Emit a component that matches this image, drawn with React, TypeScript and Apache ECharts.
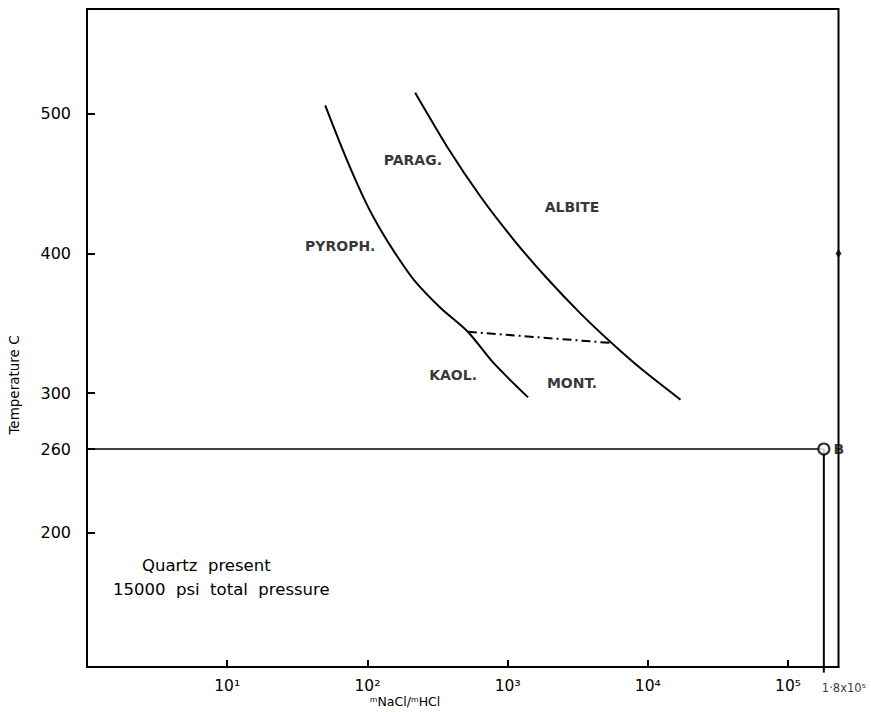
import React, { useEffect, useRef } from "react";
import * as echarts from "echarts";

// x: mNaCl/mHCl (log), y: temperature °C
const xTickValues = [10, 100, 1000, 10000, 100000];
const xTickLabels = ["10¹", "10²", "10³", "10⁴", "10⁵"];
const yTickValues = [200, 260, 300, 400, 500];

// boundary PYROPH./KAOL. (left) and PARAG./ALBITE (right)
const leftCurveX = [50, 70, 98, 124, 163, 215, 333, 520, 787, 1400];
const leftCurveT = [506, 469, 436, 417, 398, 381, 361, 344, 322, 297];
const rightCurveX = [219, 369, 640, 1106, 1858, 3289, 5520, 9140, 17100];
const rightCurveT = [515, 476.6, 440.8, 409.8, 383.5, 357.3, 335.9, 316.7, 295.3];
// kaolinite/montmorillonite dash-dot boundary
const dashX = [520, 5520];
const dashT = [344, 335.9];

const regionNames = ["PARAG.", "ALBITE", "PYROPH.", "KAOL.", "MONT."];
const regionX = [211, 2880, 64, 408, 2880];
const regionT = [467, 433, 405, 313, 307];

const pointB = { x: 180000, t: 260, name: "B", axisLabel: "1·8x10⁵" };
const rightMarker = { t: 400 };

const X_MIN = 1;
const X_MAX = 229000;
const Y_MIN = 104;
const Y_MAX = 575;

const FONT = "'DejaVu Sans', Lato, sans-serif";

export default function App() {
  const ref = useRef<HTMLDivElement>(null);
  useEffect(() => {
    if (!ref.current) return;
    const chart = echarts.init(ref.current, undefined, { renderer: "svg" });
    const black = "#000";
    const zip = (xs: number[], ys: number[]) => xs.map((x, i) => [x, ys[i]]);
    chart.setOption({
      animation: false,
      backgroundColor: "#fff",
      grid: {
        left: 87,
        right: 32.5,
        top: 9,
        bottom: 45,
        containLabel: false,
        outerBoundsMode: "none",
        show: true,
        borderColor: black,
        borderWidth: 2,
      },
      xAxis: {
        type: "log",
        logBase: 10,
        min: X_MIN,
        max: X_MAX,
        axisLine: { show: true, lineStyle: { color: black, width: 2 } },
        axisTick: {
          show: true,
          inside: true,
          length: 7,
          customValues: xTickValues,
          lineStyle: { color: black, width: 2 },
        },
        axisLabel: {
          show: true,
          customValues: xTickValues,
          margin: 11,
          color: black,
          fontSize: 15.5,
          fontFamily: FONT,
          formatter: (v: number) => {
            const i = xTickValues.findIndex((x) => Math.abs(x - v) / x < 1e-6);
            return i < 0 ? "" : xTickLabels[i];
          },
        },
        splitLine: { show: false },
        minorTick: { show: false },
      },
      yAxis: {
        type: "value",
        min: Y_MIN,
        max: Y_MAX,
        axisLine: { show: true, lineStyle: { color: black, width: 2 } },
        axisTick: {
          show: true,
          inside: true,
          length: 8,
          customValues: yTickValues,
          lineStyle: { color: black, width: 2 },
        },
        axisLabel: {
          show: true,
          customValues: yTickValues,
          margin: 16,
          color: black,
          fontSize: 16,
          fontFamily: FONT,
        },
        splitLine: { show: false },
      },
      series: [
        {
          type: "line",
          data: zip(leftCurveX, leftCurveT),
          smooth: 0.3,
          showSymbol: false,
          lineStyle: { color: black, width: 2 },
          silent: true,
        },
        {
          type: "line",
          data: zip(rightCurveX, rightCurveT),
          smooth: 0.2,
          showSymbol: false,
          lineStyle: { color: black, width: 2 },
          silent: true,
        },
        {
          type: "line",
          data: zip(dashX, dashT),
          showSymbol: false,
          lineStyle: { color: black, width: 2, type: [9, 4, 2, 4] },
          silent: true,
        },
        {
          type: "line",
          clip: false,
          data: [
            [X_MIN * 0.93, pointB.t],
            [pointB.x, pointB.t],
          ],
          showSymbol: false,
          lineStyle: { color: black, width: 1.6 },
          silent: true,
        },
        {
          type: "line",
          clip: false,
          data: [
            [pointB.x, pointB.t],
            [pointB.x, Y_MIN - 4],
          ],
          showSymbol: false,
          lineStyle: { color: black, width: 2 },
          silent: true,
        },
        {
          type: "scatter",
          data: [{ name: pointB.name, value: [pointB.x, pointB.t] }],
          symbol: "circle",
          symbolSize: 11,
          itemStyle: { color: "#fff", borderColor: black, borderWidth: 2.2 },
          label: {
            show: true,
            position: "right",
            distance: 3,
            formatter: "{b}",
            color: black,
            fontSize: 14,
            fontWeight: "bold",
            fontFamily: FONT,
          },
          silent: true,
          z: 5,
        },
        {
          type: "scatter",
          clip: false,
          data: [{ name: pointB.axisLabel, value: [pointB.x, Y_MIN] }],
          symbolSize: 0,
          label: {
            show: true,
            position: [-2, 15],
            align: "left",
            verticalAlign: "top",
            formatter: "{b}",
            color: black,
            fontSize: 11.5,
            fontFamily: FONT,
          },
          silent: true,
        },
        {
          type: "scatter",
          clip: false,
          data: [[X_MAX, rightMarker.t]],
          symbol: "diamond",
          symbolSize: [6, 9],
          itemStyle: { color: black },
          silent: true,
        },
        {
          type: "scatter",
          data: regionNames.map((n, i) => ({ name: n, value: [regionX[i], regionT[i]] })),
          symbolSize: 0,
          label: {
            show: true,
            position: "inside",
            formatter: "{b}",
            color: black,
            fontSize: 14,
            fontWeight: "bold",
            fontFamily: FONT,
          },
          silent: true,
        },
      ],
      graphic: [
        {
          type: "text",
          x: 14,
          y: 385,
          rotation: Math.PI / 2,
          style: {
            text: "Temperature C",
            fontSize: 13.5,
            fontFamily: FONT,
            fill: black,
            align: "center",
            verticalAlign: "middle",
          },
        },
        {
          type: "text",
          x: 405,
          y: 701,
          style: {
            text: "ᵐNaCl/ᵐHCl",
            fontSize: 12.5,
            fontFamily: FONT,
            fill: black,
            align: "center",
            verticalAlign: "middle",
          },
        },
        {
          type: "text",
          x: 142,
          y: 565,
          style: {
            text: "Quartz  present",
            fontSize: 16.5,
            fontFamily: FONT,
            fill: black,
            align: "left",
            verticalAlign: "middle",
          },
        },
        {
          type: "text",
          x: 113,
          y: 589,
          style: {
            text: "15000  psi  total  pressure",
            fontSize: 16.5,
            fontFamily: FONT,
            fill: black,
            align: "left",
            verticalAlign: "middle",
          },
        },
      ],
    });
    return () => chart.dispose();
  }, []);
  return (
    <div
      ref={ref}
      style={{ position: "fixed", left: 0, top: 0, width: 871, height: 712, background: "#fff" }}
    />
  );
}
